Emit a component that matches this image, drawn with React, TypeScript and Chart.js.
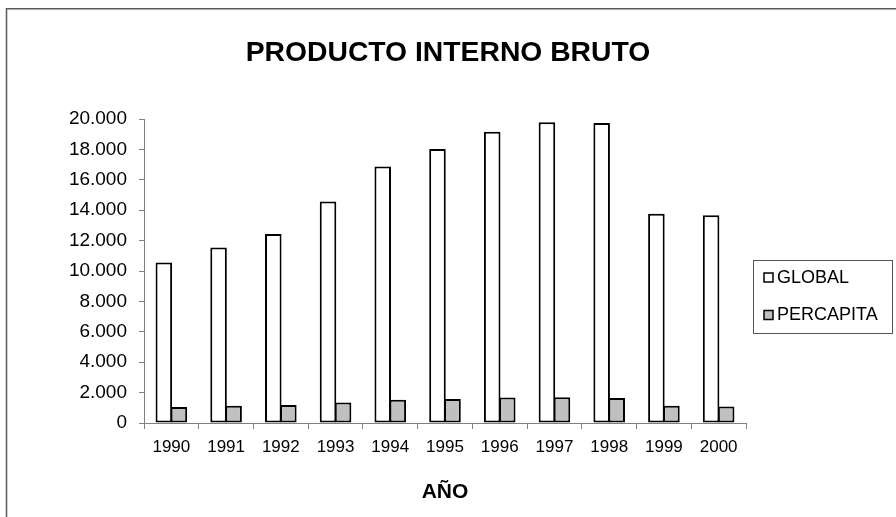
import React, { useEffect, useRef } from "react";
import { Chart, registerables } from "chart.js";

Chart.register(...registerables);

const years = ["1990", "1991", "1992", "1993", "1994", "1995", "1996", "1997", "1998", "1999", "2000"];
const globalValues = [10560, 11550, 12430, 14580, 16880, 18030, 19160, 19780, 19740, 13770, 13660];
const percapitaValues = [1050, 1140, 1180, 1350, 1530, 1580, 1670, 1690, 1640, 1140, 1090];
const yTicks = [0, 2000, 4000, 6000, 8000, 10000, 12000, 14000, 16000, 18000, 20000];
const titleText = "PRODUCTO INTERNO BRUTO";
const xTitleText = "AÑO";
const seriesNames = ["GLOBAL", "PERCAPITA"];
const seriesColors = ["#ffffff", "#c0c0c0"];

const FONT = "'Liberation Sans', Arial, sans-serif";

function fmt(v: number): string {
  const s = Math.round(v).toString();
  return s.replace(/\B(?=(\d{3})+(?!\d))/g, ".");
}

const framePlugin = {
  id: "frame",
  beforeDraw(chart: any) {
    const ctx = chart.ctx;
    ctx.save();
    ctx.fillStyle = "#ffffff";
    ctx.fillRect(0, 0, chart.width, chart.height);
    ctx.strokeStyle = "#5a5a5a";
    ctx.lineWidth = 1.5;
    ctx.beginPath();
    ctx.moveTo(6.5, chart.height);
    ctx.lineTo(6.5, 8.75);
    ctx.lineTo(chart.width, 8.75);
    ctx.stroke();
    ctx.restore();
  },
};

const titlePlugin = {
  id: "centerTitle",
  afterDraw(chart: any) {
    const ctx = chart.ctx;
    ctx.save();
    ctx.fillStyle = "#000000";
    ctx.font = `bold 28.3px ${FONT}`;
    ctx.textAlign = "center";
    ctx.textBaseline = "alphabetic";
    ctx.fillText(titleText, 448, 61);
    ctx.restore();
  },
};

const legendPlugin = {
  id: "boxLegend",
  afterDraw(chart: any) {
    const ctx = chart.ctx;
    ctx.save();
    ctx.strokeStyle = "#555555";
    ctx.lineWidth = 1;
    ctx.strokeRect(753.5, 260.5, 139, 73);
    const rows = [278, 315.5];
    chart.data.datasets.forEach((ds: any, i: number) => {
      const cy = rows[i];
      ctx.fillStyle = ds.backgroundColor;
      ctx.fillRect(764, cy - 5, 9, 9);
      ctx.strokeStyle = "#000000";
      ctx.lineWidth = 1.5;
      ctx.strokeRect(764, cy - 5, 9, 9);
      ctx.fillStyle = "#000000";
      ctx.font = `18px ${FONT}`;
      ctx.textAlign = "left";
      ctx.textBaseline = "middle";
      ctx.fillText(ds.label, 777, cy);
    });
    ctx.restore();
  },
};

export default function App() {
  const ref = useRef<HTMLCanvasElement | null>(null);

  useEffect(() => {
    document.body.style.margin = "0";
    if (!ref.current) return;
    const chart = new Chart(ref.current, {
      type: "bar",
      data: {
        labels: years,
        datasets: [
          {
            label: seriesNames[0],
            data: globalValues,
            backgroundColor: seriesColors[0],
            borderColor: "#000000",
            borderWidth: 2,
            borderSkipped: false,
            categoryPercentage: 0.55,
            barPercentage: 1.1,
          },
          {
            label: seriesNames[1],
            data: percapitaValues,
            backgroundColor: seriesColors[1],
            borderColor: "#000000",
            borderWidth: 2,
            borderSkipped: false,
            categoryPercentage: 0.55,
            barPercentage: 1.1,
          },
        ],
      },
      options: {
        responsive: false,
        animation: false,
        layout: { padding: { left: 0, right: 150, top: 119, bottom: 0 } },
        plugins: {
          legend: { display: false },
          tooltip: { enabled: false },
          title: { display: false },
        },
        scales: {
          x: {
            offset: true,
            grid: {
              display: true,
              drawOnChartArea: false,
              offset: true,
              tickLength: 6,
              color: "#808080",
            },
            border: { color: "#808080", width: 1 },
            ticks: {
              color: "#000000",
              font: { family: FONT, size: 17 },
              padding: 8,
              maxRotation: 0,
              autoSkip: false,
            },
            title: {
              display: true,
              text: xTitleText,
              color: "#000000",
              font: { family: FONT, size: 21, weight: "bold" },
              padding: { top: 0, bottom: 12 },
            },
            afterFit(scale: any) {
              scale.height = 94;
            },
          },
          y: {
            min: 0,
            max: 20000,
            afterBuildTicks(scale: any) {
              scale.ticks = yTicks.map((v) => ({ value: v }));
            },
            grid: {
              display: true,
              drawOnChartArea: false,
              tickLength: 5,
              color: "#808080",
            },
            border: { color: "#808080", width: 1 },
            ticks: {
              color: "#000000",
              font: { family: FONT, size: 19 },
              padding: 12,
              callback: (v: any) => fmt(Number(v)),
            },
            afterFit(scale: any) {
              scale.width = 144;
            },
          },
        },
      },
      plugins: [framePlugin, titlePlugin, legendPlugin],
    });
    return () => chart.destroy();
  }, []);

  return (
    <div style={{ width: 896, height: 517 }}>
      <canvas ref={ref} width={896} height={517} style={{ display: "block" }} />
    </div>
  );
}
